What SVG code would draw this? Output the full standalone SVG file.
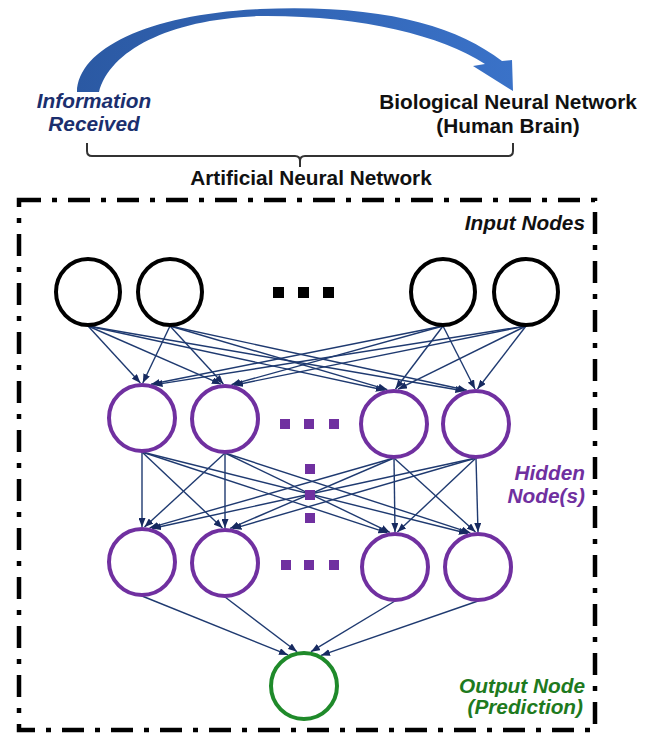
<svg xmlns="http://www.w3.org/2000/svg" width="651" height="736" viewBox="0 0 651 736">
<style>
text{font-family:"Liberation Sans",Arial,sans-serif;font-weight:bold;font-size:20.8px}
.it{font-style:italic}
.navy{fill:#1b2f6e}
.blk{fill:#111}
.pur{fill:#7030a0}
.grn{fill:#1e7a1e}
.inp{fill:none;stroke:#000;stroke-width:4}
.hid{fill:none;stroke:#7030a0;stroke-width:4}
.out{fill:none;stroke:#1f8a2a;stroke-width:4}
.dot-b{fill:#000}
.dot-p{fill:#7030a0}
.cn line{stroke:#1f3a70;stroke-width:1.4;marker-end:url(#ah)}
</style>
<defs>
<linearGradient id="bg" x1="0" y1="0" x2="1" y2="0">
<stop offset="0" stop-color="#2b59a3"/>
<stop offset="1" stop-color="#3a72c8"/>
</linearGradient>
<marker id="ah" markerWidth="9" markerHeight="7" refX="9" refY="3.5" orient="auto" markerUnits="userSpaceOnUse">
<path d="M0,0 L9,3.5 L0,7 z" fill="#172a60"/>
</marker>
</defs>

<g id="curved-arrow">
<path d="M77,92 C78,48 150,14 260,9 C380,4 455,25 502,61 L512,60 L513,91 L473,66 L485,64 C440,35 360,15 260,16 C170,19 110,50 99,92 Z" fill="url(#bg)"/>
</g>

<g id="labels-top">
<text class="it navy" x="94" y="108" text-anchor="middle">Information</text>
<text class="it navy" x="94" y="131" text-anchor="middle">Received</text>
<text class="blk" x="508" y="109" text-anchor="middle">Biological Neural Network</text>
<text class="blk" x="508" y="133" text-anchor="middle">(Human Brain)</text>
</g>

<g id="bracket">
<path d="M87,143 L87,151 Q87,156 92,156 L295,156 Q300,156 300,161 L300,167 M300,161 Q300,156 305,156 L508,156 Q513,156 513,151 L513,143" fill="none" stroke="#333" stroke-width="2"/>
<text class="blk" x="311" y="185" text-anchor="middle">Artificial Neural Network</text>
</g>

<g id="ann-frame">
<rect x="19" y="200" width="576" height="530" fill="none" stroke="#000" stroke-width="4.5" stroke-dasharray="22 11 5 11"/>
<text class="it blk" x="585" y="230" text-anchor="end">Input Nodes</text>
<text class="it pur" x="585" y="480" text-anchor="end">Hidden</text>
<text class="it pur" x="585" y="503" text-anchor="end">Node(s)</text>
<text class="it grn" x="585" y="693" text-anchor="end">Output Node</text>
<text class="it grn" x="583" y="714" text-anchor="end">(Prediction)</text>
</g>

<g id="connectors" class="cn">
<line x1="88" y1="326" x2="140.4" y2="383"/>
<line x1="88" y1="326" x2="220.9" y2="384.2"/>
<line x1="88" y1="326" x2="384.8" y2="390.2"/>
<line x1="88" y1="326" x2="464.4" y2="391"/>
<line x1="170" y1="326" x2="142.8" y2="383"/>
<line x1="170" y1="326" x2="223.4" y2="384"/>
<line x1="170" y1="326" x2="387.3" y2="389.6"/>
<line x1="170" y1="326" x2="466.8" y2="390.2"/>
<line x1="443" y1="326" x2="151" y2="384.2"/>
<line x1="443" y1="326" x2="231.5" y2="384.6"/>
<line x1="443" y1="326" x2="395.5" y2="389"/>
<line x1="443" y1="326" x2="475" y2="389"/>
<line x1="526" y1="326" x2="153.5" y2="384.9"/>
<line x1="526" y1="326" x2="234" y2="385.2"/>
<line x1="526" y1="326" x2="398" y2="389.2"/>
<line x1="526" y1="326" x2="477.5" y2="389"/>

<line x1="142" y1="452" x2="142" y2="527"/>
<line x1="142" y1="452" x2="222.5" y2="528.1"/>
<line x1="142" y1="452" x2="387.4" y2="532.8"/>
<line x1="142" y1="452" x2="467.9" y2="533.5"/>
<line x1="225" y1="453" x2="144.5" y2="527.1"/>
<line x1="225" y1="453" x2="225" y2="528"/>
<line x1="225" y1="453" x2="389.9" y2="532.4"/>
<line x1="225" y1="453" x2="470.4" y2="532.8"/>
<line x1="394" y1="458" x2="149.6" y2="527.8"/>
<line x1="394" y1="458" x2="230.1" y2="528.4"/>
<line x1="394" y1="458" x2="395" y2="532"/>
<line x1="394" y1="458" x2="475.5" y2="532.1"/>
<line x1="476" y1="458" x2="152" y2="528.5"/>
<line x1="476" y1="458" x2="232.5" y2="528.8"/>
<line x1="476" y1="458" x2="397.4" y2="532.1"/>
<line x1="476" y1="458" x2="478" y2="532"/>

<line x1="142" y1="596" x2="288" y2="654.9"/>
<line x1="225" y1="597" x2="297" y2="651.7"/>
<line x1="395" y1="601" x2="311" y2="651.7"/>
<line x1="478" y1="601" x2="321" y2="655.4"/>
</g>

<g id="input-1"><ellipse class="inp" cx="88" cy="292" rx="32" ry="33"/></g>
<g id="input-2"><ellipse class="inp" cx="170" cy="292" rx="32" ry="33"/></g>
<g id="input-dots">
<rect class="dot-b" x="273" y="287" width="11" height="11"/>
<rect class="dot-b" x="298" y="287" width="11" height="11"/>
<rect class="dot-b" x="323" y="287" width="11" height="11"/>
</g>
<g id="input-3"><ellipse class="inp" cx="443" cy="292" rx="32" ry="33"/></g>
<g id="input-4"><ellipse class="inp" cx="526" cy="292" rx="32" ry="33"/></g>

<g id="hidden1-1"><circle class="hid" cx="142" cy="418" r="33"/></g>
<g id="hidden1-2"><circle class="hid" cx="225" cy="419" r="33"/></g>
<g id="hidden1-3"><circle class="hid" cx="394" cy="424" r="33"/></g>
<g id="hidden1-4"><circle class="hid" cx="476" cy="424" r="33"/></g>

<g id="hidden-dots">
<rect class="dot-p" x="280" y="419" width="10" height="10"/>
<rect class="dot-p" x="304" y="419" width="10" height="10"/>
<rect class="dot-p" x="329" y="419" width="10" height="10"/>
<rect class="dot-p" x="305" y="464" width="10" height="10"/>
<rect class="dot-p" x="305" y="490" width="10" height="10"/>
<rect class="dot-p" x="305" y="513" width="10" height="10"/>
<rect class="dot-p" x="281" y="560" width="10" height="10"/>
<rect class="dot-p" x="304" y="560" width="10" height="10"/>
<rect class="dot-p" x="329" y="560" width="10" height="10"/>
</g>

<g id="hidden2-1"><circle class="hid" cx="142" cy="562" r="33"/></g>
<g id="hidden2-2"><circle class="hid" cx="225" cy="563" r="33"/></g>
<g id="hidden2-3"><circle class="hid" cx="395" cy="567" r="33"/></g>
<g id="hidden2-4"><circle class="hid" cx="478" cy="567" r="33"/></g>

<g id="output"><circle class="out" cx="304" cy="686" r="33"/></g>
</svg>
